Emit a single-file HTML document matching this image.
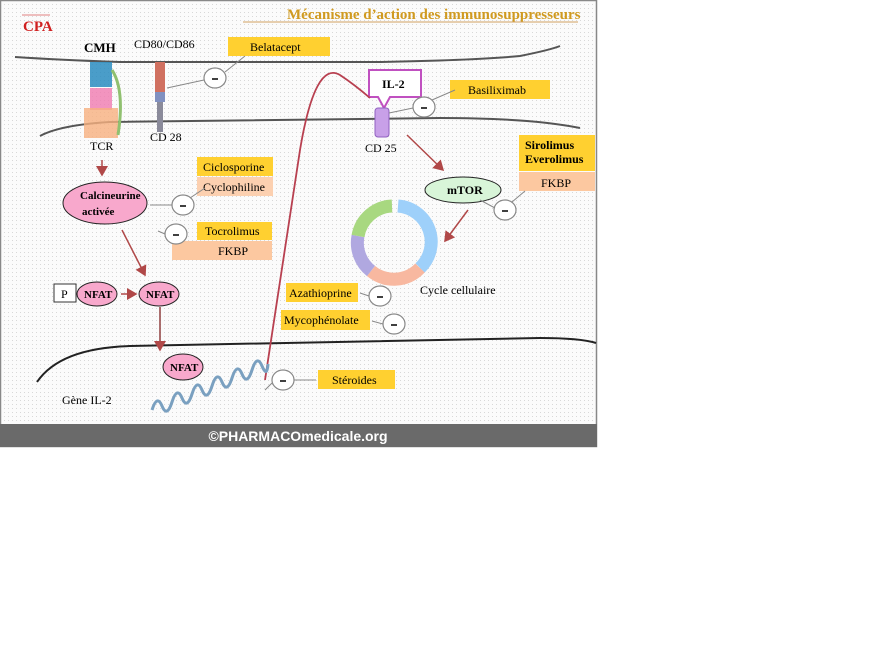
<!DOCTYPE html>
<html><head><meta charset="utf-8"><style>
body{margin:0;width:896px;height:672px;background:#fff;overflow:hidden}
svg{display:block}
text{font-family:"Liberation Serif",serif;font-size:12px;fill:#000}
.b{font-weight:bold}
</style></head><body>
<svg width="896" height="672" viewBox="0 0 896 672">
<defs>
<pattern id="dots" width="4" height="4" patternUnits="userSpaceOnUse"><rect width="4" height="4" fill="#fbfbfb"/><rect width="1" height="1" fill="#d8d8d8"/></pattern>
<marker id="ar" markerWidth="8" markerHeight="8" refX="6" refY="4" orient="auto"><path d="M0,0L7,4L0,8z" fill="#b04848"/></marker>
</defs>
<rect x="0" y="0" width="597" height="447" fill="url(#dots)"/>
<rect x="0.5" y="0.5" width="596" height="446" fill="none" stroke="#888" stroke-width="1.5"/>
<text x="287" y="19" class="b" style="font-size:15px;fill:#d09a20">Mécanisme d’action des immunosuppresseurs</text>
<line x1="243" y1="22" x2="578" y2="22" stroke="#d0a060" stroke-width="1"/>
<text x="23" y="31" class="b" style="font-size:15px;fill:#d02020">CPA</text>
<line x1="22" y1="15" x2="50" y2="15" stroke="#e08080" stroke-width="1"/>
<path d="M15,57 Q60,60 120,62 L380,62 Q480,60 520,56 Q550,50 560,46" fill="none" stroke="#555" stroke-width="2"/>
<path d="M40,136 Q60,125 110,122 L440,118 Q530,118 580,128" fill="none" stroke="#555" stroke-width="2"/>
<path d="M37,382 Q60,348 130,346 L540,338 Q580,338 596,343" fill="none" stroke="#222" stroke-width="2"/>
<rect x="90" y="62" width="22" height="25" fill="#2a8cbf" opacity=".85"/>
<rect x="90" y="88" width="22" height="22" fill="#f07ab0" opacity=".8"/>
<rect x="84" y="108" width="34" height="30" fill="#f8b080" opacity=".8"/>
<path d="M112,70 Q125,90 118,135" fill="none" stroke="#90c070" stroke-width="3"/>
<rect x="155" y="62" width="10" height="30" fill="#d07060"/>
<rect x="155" y="92" width="10" height="10" fill="#8090c0"/>
<rect x="157" y="102" width="6" height="30" fill="#8a8a9a"/>
<text x="84" y="52" class="b" style="font-size:13px">CMH</text>
<text x="134" y="48">CD80/CD86</text>
<text x="90" y="150">TCR</text>
<text x="150" y="141">CD 28</text>
<rect x="228" y="37" width="102" height="19" fill="#ffd030"/><text x="250" y="51">Belatacept</text>
<rect x="450" y="80" width="100" height="19" fill="#ffd030"/><text x="468" y="94">Basiliximab</text>
<rect x="519" y="135" width="76" height="36" fill="#ffd030"/><text x="525" y="149" class="b">Sirolimus</text><text x="525" y="163" class="b">Everolimus</text>
<rect x="519" y="172" width="76" height="19" fill="#fcc8a0"/><text x="541" y="187">FKBP</text>
<rect x="197" y="157" width="76" height="19" fill="#ffd030"/><text x="203" y="171">Ciclosporine</text>
<rect x="197" y="177" width="76" height="19" fill="#fcd0b0"/><text x="203" y="191">Cyclophiline</text>
<rect x="197" y="222" width="75" height="18" fill="#ffd030"/><text x="205" y="235">Tocrolimus</text>
<rect x="172" y="241" width="100" height="19" fill="#fcc8a0"/><text x="218" y="255">FKBP</text>
<rect x="286" y="283" width="72" height="19" fill="#ffd030"/><text x="289" y="297">Azathioprine</text>
<rect x="281" y="310" width="89" height="20" fill="#ffd030"/><text x="284" y="324">Mycophénolate</text>
<rect x="318" y="370" width="77" height="19" fill="#ffd030"/><text x="332" y="384">Stéroides</text>
<path d="M369,70 H421 V97 H390 L384,108 L378,97 H369 Z" fill="#fff" stroke="#c050c0" stroke-width="2"/>
<text x="382" y="88" class="b">IL-2</text>
<rect x="375" y="108" width="14" height="29" rx="3" fill="#c8a0e8" stroke="#9060c0"/>
<text x="365" y="152">CD 25</text>
<path d="M265,380 L300,150 Q315,60 340,75 Q355,85 370,98" fill="none" stroke="#b84050" stroke-width="1.8"/>
<ellipse cx="463" cy="190" rx="38" ry="13" fill="#d8f5d8" stroke="#222"/>
<text x="447" y="194" class="b">mTOR</text>
<line x1="407" y1="135" x2="443" y2="170" stroke="#b04848" stroke-width="1.5" marker-end="url(#ar)"/>
<line x1="468" y1="210" x2="445" y2="241" stroke="#b04848" stroke-width="1.5" marker-end="url(#ar)"/>
<g fill="none" stroke-width="13">
<path d="M398,206 A36,36 0 0 1 420,268" stroke="#9ed0fa"/>
<path d="M420,268 A36,36 0 0 1 371,271" stroke="#f8b8a0"/>
<path d="M371,271 A36,36 0 0 1 358,236" stroke="#b0a8e0"/>
<path d="M358,236 A36,36 0 0 1 392,206" stroke="#a8d880"/>
</g>
<text x="420" y="294">Cycle cellulaire</text>
<ellipse cx="105" cy="203" rx="42" ry="21" fill="#f8a8cc" stroke="#222"/>
<text x="80" y="199" class="b" style="font-size:11px">Calcineurine</text><text x="82" y="215" class="b" style="font-size:11px">activée</text>
<line x1="102" y1="160" x2="102" y2="175" stroke="#b04848" stroke-width="1.5" marker-end="url(#ar)"/>
<line x1="122" y1="230" x2="145" y2="275" stroke="#b04848" stroke-width="1.5" marker-end="url(#ar)"/>
<rect x="54" y="284" width="22" height="18" fill="#fff" stroke="#333"/><text x="61" y="298">P</text>
<ellipse cx="97" cy="294" rx="20" ry="12" fill="#f8a8cc" stroke="#222"/><text x="84" y="298" class="b" style="font-size:11px">NFAT</text>
<ellipse cx="159" cy="294" rx="20" ry="12" fill="#f8a8cc" stroke="#222"/><text x="146" y="298" class="b" style="font-size:11px">NFAT</text>
<ellipse cx="183" cy="367" rx="20" ry="13" fill="#f8a8cc" stroke="#222"/><text x="170" y="371" class="b" style="font-size:11px">NFAT</text>
<line x1="121" y1="294" x2="136" y2="294" stroke="#b04848" stroke-width="1.5" marker-end="url(#ar)"/>
<line x1="160" y1="307" x2="160" y2="350" stroke="#904040" stroke-width="1.5" marker-end="url(#ar)"/>
<text x="62" y="404">Gène IL-2</text>
<path d="M152,410 q5,-16 10,-4 q5,12 10,-4 q5,-16 10,-4 q5,12 10,-4 q5,-16 10,-4 q5,12 10,-4 q5,-16 10,-4 q5,12 10,-4 q5,-16 10,-4 q5,12 10,-4 q5,-16 10,-4 q5,12 6,-2" fill="none" stroke="#7aa0c0" stroke-width="3"/>
<g fill="#fff" stroke="#888" stroke-width="1.2">
<ellipse cx="215" cy="78" rx="11" ry="10"/><ellipse cx="424" cy="107" rx="11" ry="10"/>
<ellipse cx="505" cy="210" rx="11" ry="10"/><ellipse cx="183" cy="205" rx="11" ry="10"/>
<ellipse cx="176" cy="234" rx="11" ry="10"/><ellipse cx="380" cy="296" rx="11" ry="10"/>
<ellipse cx="394" cy="324" rx="11" ry="10"/><ellipse cx="283" cy="380" rx="11" ry="10"/>
</g>
<g stroke="#000" stroke-width="1.5">
<line x1="212" y1="79" x2="218" y2="79"/><line x1="421" y1="108" x2="427" y2="108"/>
<line x1="502" y1="211" x2="508" y2="211"/><line x1="180" y1="206" x2="186" y2="206"/>
<line x1="173" y1="235" x2="179" y2="235"/><line x1="377" y1="297" x2="383" y2="297"/>
<line x1="391" y1="325" x2="397" y2="325"/><line x1="280" y1="381" x2="286" y2="381"/>
</g>
<g stroke="#888" stroke-width="1" fill="none">
<path d="M204,80 L167,88 M225,72 L245,56 M413,108 L389,113 M432,100 L455,90 M495,208 L480,200 M512,202 L525,191 M172,205 L150,205 M190,198 L205,188 M165,234 L158,231 M369,296 L360,293 M383,324 L372,321 M272,383 L265,390 M294,380 L316,380"/>
</g>
<rect x="0" y="424" width="597" height="23" fill="#6a6a6a"/>
<text x="298" y="441" text-anchor="middle" style="font-family:'Liberation Sans',sans-serif;font-weight:bold;font-size:14px;fill:#fff">©PHARMACOmedicale.org</text>
</svg>
</body></html>
